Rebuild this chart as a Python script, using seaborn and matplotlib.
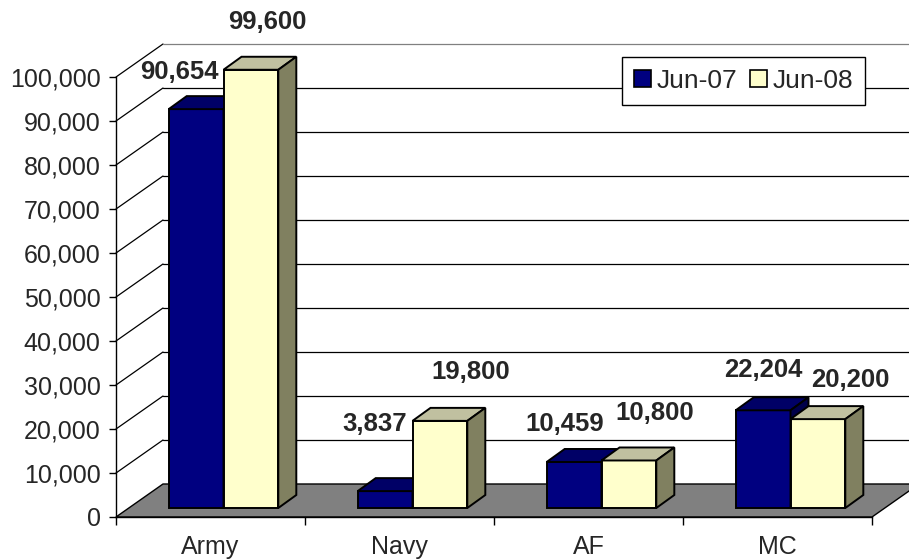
import numpy as np
import pandas as pd
import matplotlib
matplotlib.use('Agg')
import matplotlib.pyplot as plt
import matplotlib.transforms as mtransforms
from matplotlib.patches import Polygon, Patch, Rectangle
from matplotlib.ticker import StrMethodFormatter, FixedLocator
import seaborn as sns

# Daten
branches = ['Army', 'Navy', 'AF', 'MC']
periods = ['Jun-07', 'Jun-08']
jun07 = [90654, 3837, 10459, 22204]
jun08 = [99600, 19800, 10800, 20200]
y_ticks = list(range(0, 100001, 10000))

# Farben: Vorderseite, Oberseite, Seite
front_colors = ['#000080', '#FFFFCC']
top_colors = ['#000066', '#C0C0A0']
side_colors = ['#00004A', '#808060']

# Position der Wertelabels relativ zur Balkenoberkante (Pixel)
label_offsets = {
    'Jun-07': [(-17, 37), (-10, 67), (-9, 38), (0, 40)],
    'Jun-08': [(16, 48), (31, 49), (26, 47), (32, 39)],
}

df = pd.DataFrame({
    'branch': branches * 2,
    'period': [periods[0]] * 4 + [periods[1]] * 4,
    'count': jun07 + jun08,
})

sns.set_style('white')
plt.rcParams['font.family'] = ['Liberation Sans', 'DejaVu Sans']

fig = plt.figure(figsize=(9.09, 5.6), dpi=100)
ax = fig.add_axes([116 / 909, 43 / 560, 756 / 909, 440 / 560])

sns.barplot(data=df, x='branch', y='count', hue='period', order=branches,
            hue_order=periods, palette=front_colors, width=0.58,
            edgecolor='black', linewidth=1.4, saturation=1, legend=False, ax=ax)
bars = sorted([p for p in ax.patches if isinstance(p, Rectangle) and p.get_height() > 0],
              key=lambda p: p.get_x())

ax.set_xlim(-0.5, 3.5)
ax.set_ylim(0, 100000)

# Tiefe (Pixel): Boden/Wand und Balken
floor_dx, floor_dy = 47, 33
bar_shift = (13, 9)
bar_dx, bar_dy = 18, 13

px = ax.transData.transform
ident = mtransforms.IdentityTransform()

# Boden
fl = px((-0.5, 0))
fr = px((3.5, 0))
floor = Polygon([fl, fr, fr + [floor_dx, floor_dy], fl + [floor_dx, floor_dy]],
                closed=True, facecolor='#808080', edgecolor='black', lw=1,
                transform=ident, clip_on=False, zorder=0.5)
ax.add_patch(floor)

# Seitenwand- und Rückwand-Gitterlinien
for v in y_ticks[1:]:
    a = px((-0.5, v))
    b = px((3.5, v))
    col = '#808080' if v == y_ticks[-1] else 'black'
    ax.plot([a[0], a[0] + floor_dx], [a[1], a[1] + floor_dy], color='black',
            lw=0.9, transform=ident, clip_on=False, zorder=0.6)
    ax.plot([a[0] + floor_dx, b[0] + floor_dx + 60], [a[1] + floor_dy] * 2,
            color=col, lw=0.9, transform=ident, clip_on=False, zorder=0.6)

# 3D-Balken
shift = mtransforms.ScaledTranslation(bar_shift[0] / 100, bar_shift[1] / 100,
                                      fig.dpi_scale_trans)
bar_trans = ax.transData + shift
for rank, p in enumerate(bars):
    z = 2 + rank * 0.01
    p.set_transform(bar_trans)
    p.set_clip_on(False)
    p.set_zorder(z)
    k = 0 if p.get_facecolor()[0] < 0.5 else 1
    x0, w, h = p.get_x(), p.get_width(), p.get_height()
    tl = bar_trans.transform((x0, h))
    tr = bar_trans.transform((x0 + w, h))
    br = bar_trans.transform((x0 + w, 0))
    d = np.array([bar_dx, bar_dy])
    top = Polygon([tl, tr, tr + d, tl + d], closed=True, facecolor=top_colors[k],
                  edgecolor='black', lw=1.4, transform=ident, clip_on=False, zorder=z)
    side = Polygon([br, tr, tr + d, br + d], closed=True, facecolor=side_colors[k],
                   edgecolor='black', lw=1.4, transform=ident, clip_on=False, zorder=z)
    ax.add_patch(top)
    ax.add_patch(side)

# Wertelabels
for k, (period, values) in enumerate(zip(periods, [jun07, jun08])):
    for i, v in enumerate(values):
        cx = i + (k - 0.5) * 0.29
        ax.annotate(f'{v:,}', xy=(cx, v), xycoords=bar_trans,
                    xytext=label_offsets[period][i], textcoords='offset pixels',
                    ha='center', va='center', fontsize=18.5, fontweight='bold',
                    annotation_clip=False, zorder=5)

# Achsen
ax.set_xlabel('')
ax.set_ylabel('')
ax.set_yticks(y_ticks)
ax.yaxis.set_major_formatter(StrMethodFormatter('{x:,.0f}'))
ax.tick_params(axis='y', which='major', direction='out', length=5, width=1,
               color='black', labelsize=18, pad=6, left=True)
ax.xaxis.set_minor_locator(FixedLocator([-0.5, 0.5, 1.5, 2.5, 3.5]))
ax.tick_params(axis='x', which='major', length=0, labelsize=18, pad=13)
ax.tick_params(axis='x', which='minor', direction='out', length=6, width=1,
               color='black', bottom=True)
for s in ['top', 'right']:
    ax.spines[s].set_visible(False)
for s in ['left', 'bottom']:
    ax.spines[s].set_color('black')
    ax.spines[s].set_linewidth(1)
    ax.spines[s].set_zorder(0.7)

# Legende
handles = [Patch(facecolor=c, edgecolor='black', lw=1.2) for c in front_colors]
leg = fig.legend(handles, periods, loc='upper left',
                 bbox_to_anchor=(622 / 909, 1 - 57 / 560), ncol=2, fontsize=19,
                 frameon=True, fancybox=False, framealpha=1, edgecolor='black',
                 borderpad=0.45, handlelength=0.65, handleheight=0.65,
                 handletextpad=0.2, columnspacing=0.5, borderaxespad=0)
leg.get_frame().set_linewidth(1)

fig.savefig('out.png', dpi=100, facecolor='white')
